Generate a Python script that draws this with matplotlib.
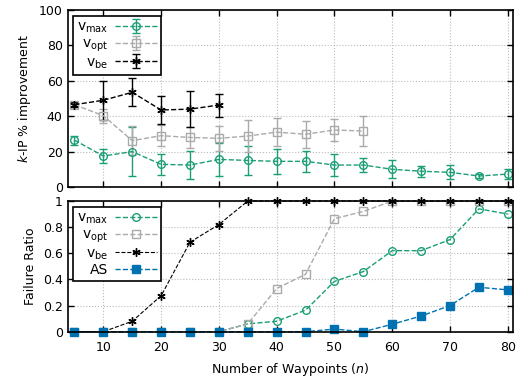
import matplotlib
matplotlib.use("Agg")
import matplotlib.pyplot as plt
from matplotlib.ticker import FuncFormatter

# waypoints
n_all = [5, 10, 15, 20, 25, 30, 35, 40, 45, 50, 55, 60, 65, 70, 75, 80]

# top panel: k-IP % improvement (mean, error)
vmax_imp = [26.5, 17.5, 20, 12.8, 12.4, 15.6, 15, 14.5, 14.5, 12.4, 12.4, 10, 8.9, 8.3, 6.2, 7.3]
vmax_err = [2.5, 4, 14, 6, 8, 9.5, 8, 7, 6, 6, 4, 5, 3, 4, 1, 3]

n_opt = [5, 10, 15, 20, 25, 30, 35, 40, 45, 50, 55]
vopt_imp = [46.5, 40.3, 26.2, 29, 28, 27.5, 28.8, 31, 29.8, 32.2, 31.6]
vopt_err = [1.5, 4, 8, 6, 6, 7, 9, 8, 7.7, 6, 8.5]

n_be = [5, 10, 15, 20, 25, 30]
vbe_imp = [46.5, 49, 53.5, 43.5, 44, 46.3]
vbe_err = [1.5, 11, 8, 8, 10, 6.5]

# bottom panel: failure ratio
vmax_fail = [0, 0, 0, 0, 0, 0, 0.06, 0.08, 0.165, 0.385, 0.46, 0.62, 0.62, 0.705, 0.94, 0.9]
vopt_fail = [0, 0, 0, 0, 0, 0, 0.06, 0.33, 0.44, 0.865, 0.92, 1, 1, 1, 1, 1]
vbe_fail = [0, 0, 0.08, 0.275, 0.685, 0.82, 1, 1, 1, 1, 1, 1, 1, 1, 1, 1]
as_fail = [0, 0, 0, 0, 0, 0, 0, 0, 0, 0.02, 0, 0.057, 0.12, 0.2, 0.34, 0.32]

c_max = "#1b9e77"
c_opt = "#aaaaaa"
c_be = "#000000"
c_as = "#0072b2"

plt.rcParams["font.family"] = "DejaVu Sans"
plt.rcParams["font.size"] = 9
plt.rcParams["mathtext.default"] = "regular"

fig = plt.figure(figsize=(5.17, 3.81), dpi=100)
W, H = 517.0, 381.0
left, right = 67.5 / W, 513 / W
ax1 = fig.add_axes([left, 1 - 187 / H, right - left, (187 - 10) / H])
ax2 = fig.add_axes([left, 1 - 331.7 / H, right - left, (331.7 - 201) / H])

lab_max = "v$_{max}$"
lab_opt = "v$_{opt}$"
lab_be = "v$_{be}$"

ax1.errorbar(n_all, vmax_imp, yerr=vmax_err, color=c_max, ls="--", lw=1, marker="o",
             mfc="none", ms=5.5, capsize=3, label=lab_max)
ax1.errorbar(n_opt, vopt_imp, yerr=vopt_err, color=c_opt, ls="--", lw=1, marker="s",
             mfc="none", ms=5.5, capsize=3, label=lab_opt)
ax1.errorbar(n_be, vbe_imp, yerr=vbe_err, color=c_be, ls="--", lw=1, marker=(6, 2, 0),
             ms=6, capsize=3, label=lab_be)

ax2.plot(n_all, vmax_fail, color=c_max, ls="--", lw=1, marker="o", mfc="none", ms=5.5, label=lab_max)
ax2.plot(n_all, vopt_fail, color=c_opt, ls="--", lw=1, marker="s", mfc="none", ms=5.5, label=lab_opt)
ax2.plot(n_all, vbe_fail, color=c_be, ls="--", lw=0.8, marker=(6, 2, 0), ms=6, label=lab_be, clip_on=False)
ax2.plot(n_all, as_fail, color=c_as, ls="--", lw=1, marker="s", ms=5.5, label="AS", clip_on=False)

for ax in (ax1, ax2):
    ax.set_xlim(3.8, 80.9)
    ax.set_xticks(range(10, 81, 10))
    ax.grid(True, color="#bbbbbb", ls=":", lw=0.8)
    ax.tick_params(direction="in", top=True, right=True, length=4, width=1)
    ax.tick_params(axis="x", pad=7)
    for s in ax.spines.values():
        s.set_linewidth(1.2)

ax1.set_ylim(0, 100)
ax1.set_yticks(range(0, 101, 20))
ax1.tick_params(labelbottom=False)
ax1.set_ylabel("$\\mathit{k}$-IP % improvement")

ax2.set_ylim(0, 1)
ax2.set_yticks([0, 0.2, 0.4, 0.6, 0.8, 1])
ax2.yaxis.set_major_formatter(FuncFormatter(lambda v, p: "%g" % v))
ax2.set_ylabel("Failure Ratio")
ax2.set_xlabel("Number of Waypoints ($\\mathit{n}$)", labelpad=5)

fig.align_ylabels([ax1, ax2])

for ax in (ax1, ax2):
    leg = ax.legend(loc="upper left", markerfirst=False, fancybox=False, framealpha=1,
                    edgecolor="black", fontsize=10, handlelength=3, borderpad=0.3,
                    labelspacing=0.1, handletextpad=0.5, borderaxespad=0.4)
    leg.get_frame().set_linewidth(1.2)

plt.savefig("out.png", dpi=100)
